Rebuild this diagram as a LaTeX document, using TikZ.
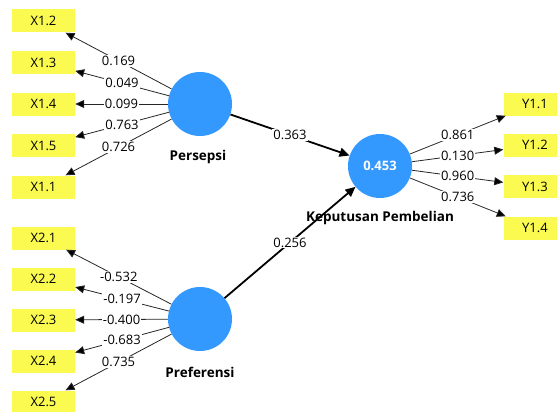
\documentclass[tikz,border=0pt]{standalone}
\usepackage{fontspec}
\setmainfont{Open Sans}
\usetikzlibrary{arrows.meta}

\definecolor{lvblue}{RGB}{51,153,255}
\definecolor{mvyellow}{RGB}{250,250,80}

\begin{document}
\begin{tikzpicture}[x=1pt,y=-1pt,
	font=\fontsize{13}{15}\selectfont,
	mv/.style={shape=rectangle,fill=mvyellow,minimum width=63pt,minimum height=23pt,inner sep=0pt},
	lv/.style={shape=circle,fill=lvblue,minimum size=64pt,inner sep=0pt,text=white,font=\fontsize{13}{15}\selectfont\bfseries},
	lvname/.style={font=\fontsize{13.5}{15}\selectfont\bfseries},
	load/.style={-{Triangle[length=9pt,width=8pt]},draw=black!85,line width=0.8pt},
	struct/.style={-{Triangle[length=10pt,width=9pt]},draw=black,line width=1.8pt},
	val/.style={fill=white,inner sep=1pt}]
	
	\clip (0, 0) rectangle (557, 412);
	
	% latent variables
	\node[lv] (pers) at (200, 104) {};
	\node[lv] (pref) at (200, 319) {};
	\node[lv] (kep)  at (380, 166) {0.453};
	
	\node[lvname] (persl) at (198, 157) {Persepsi};
	\node[lvname] (prefl) at (200, 372) {Preferensi};
	\node[lvname] (kepl)  at (380, 218) {Keputusan Pembelian};
	
	% indicators
	\node[mv] (x12) at (43.5, 21)    {X1.2};
	\node[mv] (x13) at (43.5, 62.5)  {X1.3};
	\node[mv] (x14) at (43.5, 104)   {X1.4};
	\node[mv] (x15) at (43.5, 145.5) {X1.5};
	\node[mv] (x11) at (43.5, 187)   {X1.1};
	
	\node[mv] (x21) at (43.5, 238) {X2.1};
	\node[mv] (x22) at (43.5, 279) {X2.2};
	\node[mv] (x23) at (43.5, 320) {X2.3};
	\node[mv] (x24) at (43.5, 361) {X2.4};
	\node[mv] (x25) at (43.5, 402) {X2.5};
	
	\node[mv] (y11) at (535, 104)   {Y1.1};
	\node[mv] (y12) at (535, 145.3) {Y1.2};
	\node[mv] (y13) at (535, 186.6) {Y1.3};
	\node[mv] (y14) at (535, 228)   {Y1.4};
	
	% outer loadings
	\path[load] (pers) edge node[val] {0.169} (x12);
	\path[load] (pers) edge node[val] {0.049} (x13);
	\path[load] (pers) edge node[val] {0.099} (x14);
	\path[load] (pers) edge node[val] {0.763} (x15);
	\path[load] (pers) edge node[val] {0.726} (x11);
	
	\path[load] (pref) edge node[val] {-0.532} (x21);
	\path[load] (pref) edge node[val] {-0.197} (x22);
	\path[load] (pref) edge node[val] {-0.400} (x23);
	\path[load] (pref) edge node[val] {-0.683} (x24);
	\path[load] (pref) edge node[val] {0.735} (x25);
	
	\path[load] (kep) edge node[val] {0.861} (y11);
	\path[load] (kep) edge node[val] {0.130} (y12);
	\path[load] (kep) edge node[val] {0.960} (y13);
	\path[load] (kep) edge node[val] {0.736} (y14);
	
	% inner model
	\path[struct] (pers) edge node[val] {0.363} (kep);
	\path[struct] (pref) edge node[val] {0.256} (kep);
	
\end{tikzpicture}
\end{document}
